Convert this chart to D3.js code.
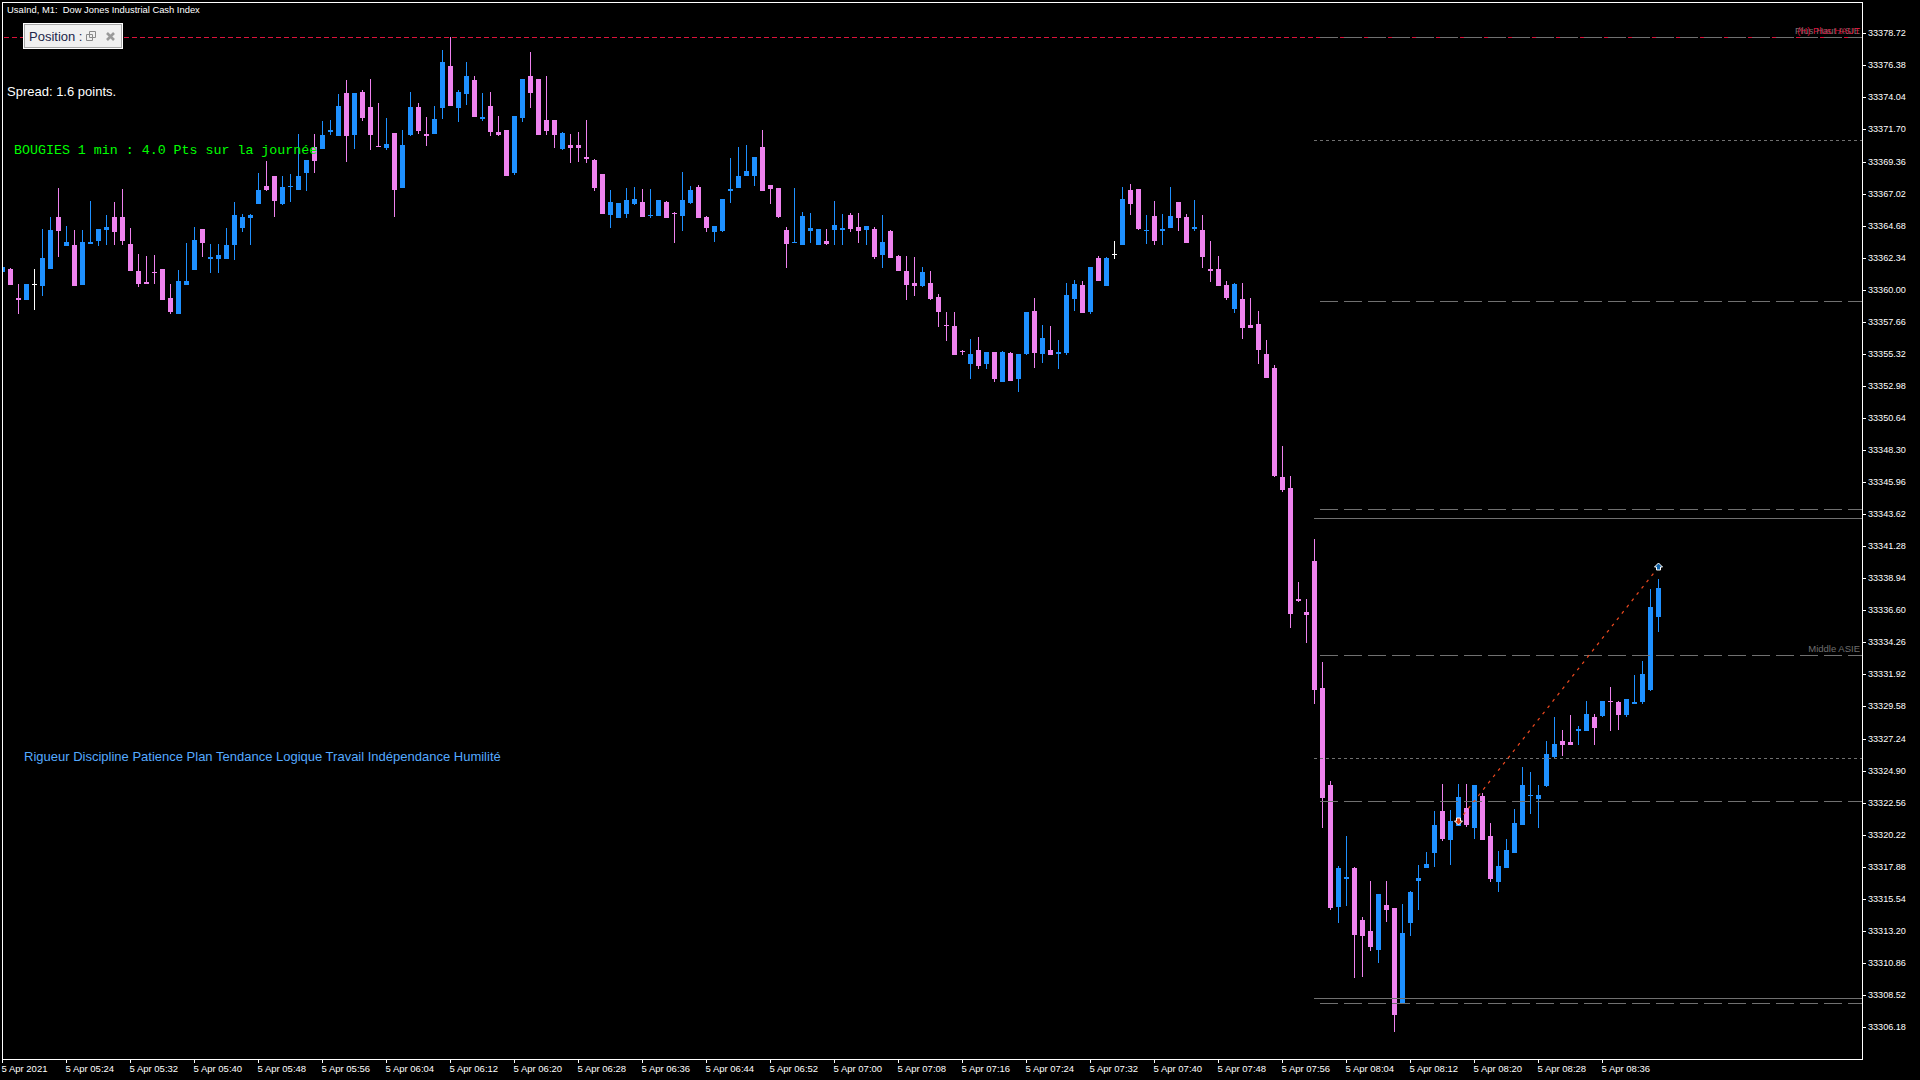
<!DOCTYPE html>
<html>
<head>
<meta charset="utf-8">
<title>UsaInd M1</title>
<script src="https://cdn.jsdelivr.net/npm/d3@7"></script>
<style>
  html, body { margin: 0; padding: 0; background: #000; overflow: hidden; }
  svg { display: block; }
  text { font-family: "Liberation Sans", Arial, sans-serif; }
</style>
</head>
<body>
<div id="chart"></div>
<script>
// Candles, one per minute from 05:16
const open = [
33361.29,33361.51,33359.40,33359.25,33360.45,33360.27,33361.51,33365.31,33363.19,33363.26,
33360.34,33363.34,33363.56,33364.36,33365.31,33365.31,33363.34,33361.37,33360.56,33361.29,
33361.51,33359.40,33358.23,33360.34,33361.44,33364.43,33362.24,33362.24,33362.24,33363.26,
33364.51,33365.24,33366.26,33367.57,33368.30,33366.26,33367.50,33367.28,33368.52,33370.42,
33370.27,33371.51,33371.22,33374.36,33371.29,33374.43,33373.34,33370.49,33370.35,33371.44,
33367.43,33371.29,33373.34,33371.37,33371.37,33373.27,33376.33,33373.27,33374.29,33375.31,
33372.46,33373.41,33371.51,33371.66,33368.52,33372.54,33375.60,33375.38,33372.39,33372.39,
33370.27,33370.56,33370.56,33369.69,33369.47,33368.45,33365.45,33365.24,33365.53,33366.26,
33366.40,33365.38,33365.38,33366.40,33365.60,33365.38,33366.33,33367.50,33365.31,33364.21,
33364.29,33367.21,33367.43,33368.30,33368.30,33370.42,33367.64,33367.43,33364.36,33363.41,
33363.26,33364.29,33363.26,33363.56,33364.36,33364.36,33365.45,33364.58,33364.36,33364.43,
33362.53,33364.29,33362.46,33361.37,33360.49,33360.27,33360.49,33359.47,33357.42,33357.35,
33355.53,33354.58,33355.60,33354.58,33355.45,33353.26,33355.38,33353.48,33355.31,33358.45,
33355.31,33355.60,33355.31,33355.38,33359.32,33360.34,33358.37,33362.32,33360.27,33362.61,
33363.26,33367.28,33367.35,33364.29,33365.38,33364.29,33364.51,33366.40,33365.31,33364.43,
33364.36,33361.51,33361.51,33360.34,33358.59,33359.32,33357.42,33357.50,33355.31,33354.29,
33346.33,33345.53,33337.42,33336.47,33340.20,33330.93,33323.84,33314.94,33316.98,33317.79,
33313.99,33313.19,33311.80,33315.08,33314.87,33307.86,33313.77,33316.84,33317.79,33318.88,
33321.95,33319.83,33320.85,33322.17,33320.71,33323.04,33320.12,33316.76,33317.79,33318.88,
33320.92,33323.04,33322.82,33323.77,33325.89,33327.06,33326.98,33327.79,33327.79,33328.81,
33328.88,33329.98,33329.90,33328.95,33329.76,33329.90,33330.78,33336.11];

const high = [
33361.66,33361.59,33360.42,33360.42,33361.51,33364.43,33365.31,33367.43,33364.65,33364.36,
33364.36,33366.48,33364.43,33365.45,33366.40,33367.35,33364.51,33362.61,33362.46,33362.53,
33361.51,33360.42,33361.44,33363.41,33364.58,33364.43,33363.34,33363.34,33364.51,33366.40,
33365.53,33365.53,33368.52,33369.40,33368.30,33368.30,33368.45,33371.37,33369.47,33371.37,
33372.32,33372.39,33374.29,33375.31,33374.36,33374.58,33375.38,33373.63,33372.54,33371.44,
33371.66,33374.43,33373.63,33372.61,33373.41,33377.50,33378.45,33374.58,33376.62,33375.60,
33374.36,33374.43,33372.68,33371.66,33372.68,33375.38,33377.35,33375.38,33375.60,33372.39,
33371.51,33371.37,33371.51,33372.39,33369.54,33368.45,33367.28,33366.33,33367.43,33367.50,
33367.35,33367.35,33366.55,33366.48,33365.67,33368.59,33367.57,33367.64,33365.38,33364.65,
33366.62,33369.62,33370.42,33370.56,33369.69,33371.66,33367.64,33367.43,33364.58,33367.43,
33365.67,33365.60,33364.43,33364.43,33366.48,33365.53,33365.60,33365.60,33364.65,33364.58,
33365.45,33364.36,33362.53,33362.46,33362.39,33361.66,33361.37,33359.69,33358.37,33358.37,
33355.60,33356.40,33356.55,33355.45,33355.45,33355.53,33355.45,33355.31,33358.37,33359.40,
33357.42,33357.35,33356.33,33360.49,33360.71,33360.64,33361.66,33362.46,33362.39,33363.56,
33367.50,33367.72,33367.35,33365.45,33366.48,33365.53,33367.50,33366.40,33365.53,33366.55,
33365.45,33363.56,33362.46,33360.64,33360.49,33360.49,33359.40,33358.45,33356.33,33354.50,
33348.59,33346.40,33338.66,33337.42,33341.80,33332.82,33324.14,33317.93,33320.12,33317.86,
33314.21,33316.84,33315.89,33316.84,33314.87,33315.16,33316.11,33318.00,33318.95,33321.95,
33323.92,33322.02,33323.92,33323.92,33323.84,33323.26,33321.07,33319.03,33319.90,33322.09,
33325.16,33324.79,33323.84,33327.06,33328.81,33327.86,33328.95,33328.15,33329.98,33329.03,
33329.98,33331.00,33329.98,33330.12,33331.87,33332.90,33338.15,33338.88];

const low = [
33361.29,33360.34,33358.23,33359.25,33358.52,33359.54,33361.51,33362.39,33363.19,33360.27,
33360.34,33363.34,33363.19,33363.26,33363.26,33363.26,33361.37,33360.20,33360.42,33360.42,
33359.25,33358.23,33358.23,33360.34,33361.44,33362.39,33361.22,33361.22,33362.24,33362.17,
33364.21,33363.26,33366.26,33367.21,33365.31,33366.18,33366.40,33367.28,33367.21,33368.52,
33370.27,33371.29,33371.22,33369.32,33370.27,33372.32,33370.20,33370.42,33370.20,33365.31,
33367.43,33371.22,33371.37,33370.49,33371.37,33372.46,33373.41,33372.24,33373.48,33372.61,
33372.32,33371.22,33371.22,33368.30,33368.37,33372.24,33373.27,33371.29,33371.29,33370.35,
33370.20,33369.25,33369.32,33369.25,33367.21,33365.53,33364.51,33365.24,33365.24,33366.18,
33365.31,33365.24,33365.38,33365.24,33363.41,33364.29,33366.26,33365.24,33364.21,33363.48,
33364.21,33366.33,33367.43,33368.30,33367.57,33367.21,33366.26,33365.24,33361.59,33363.41,
33363.26,33363.41,33363.26,33363.26,33363.26,33363.26,33364.21,33363.41,33363.26,33362.24,
33361.59,33362.32,33361.37,33359.25,33359.54,33360.20,33359.25,33357.28,33356.26,33355.23,
33355.23,33353.48,33354.21,33354.21,33353.26,33353.26,33353.34,33352.53,33355.23,33354.29,
33354.65,33355.23,33354.21,33355.23,33358.45,33358.30,33358.23,33360.64,33360.27,33362.24,
33363.26,33365.45,33364.36,33363.34,33363.26,33363.26,33364.51,33364.29,33363.41,33364.29,
33361.59,33360.56,33360.27,33359.25,33358.30,33356.40,33357.21,33354.58,33353.56,33346.33,
33345.23,33335.31,33337.20,33334.21,33329.76,33320.71,33314.72,33313.77,33315.01,33309.76,
33309.83,33311.73,33310.85,33313.84,33305.81,33307.86,33312.82,33314.72,33317.79,33317.86,
33319.76,33318.00,33320.85,33320.78,33319.90,33319.83,33316.76,33316.03,33317.79,33318.88,
33320.92,33321.73,33320.71,33323.70,33325.82,33325.96,33326.76,33326.76,33327.79,33326.76,
33328.81,33327.79,33327.86,33328.81,33329.76,33329.76,33330.71,33335.01];

const close = [
33361.66,33360.34,33359.25,33360.42,33360.45,33362.32,33364.36,33364.29,33363.48,33360.27,
33363.48,33363.48,33364.43,33364.58,33364.21,33363.56,33361.37,33360.42,33360.42,33361.22,
33359.25,33358.37,33360.64,33360.64,33363.63,33363.41,33362.39,33362.53,33363.26,33365.45,
33365.31,33365.45,33367.28,33367.28,33366.48,33367.50,33367.57,33368.30,33369.47,33369.40,
33371.29,33371.66,33373.41,33371.22,33374.36,33372.54,33371.29,33370.42,33370.64,33367.28,
33370.56,33373.34,33371.59,33371.22,33372.46,33376.62,33373.41,33374.43,33375.60,33372.61,
33372.61,33371.51,33371.29,33368.30,33372.68,33375.38,33374.36,33371.29,33371.59,33371.29,
33371.44,33370.35,33370.35,33369.54,33367.43,33365.53,33366.40,33366.33,33366.55,33366.62,
33365.31,33365.45,33366.55,33365.24,33365.53,33366.55,33367.28,33365.24,33364.51,33364.65,
33366.62,33367.35,33368.30,33368.67,33369.69,33367.21,33367.35,33365.31,33363.34,33363.48,
33365.38,33364.51,33364.43,33363.34,33364.72,33364.51,33364.43,33364.29,33364.65,33362.39,
33363.48,33362.32,33361.37,33360.34,33360.27,33361.29,33359.32,33358.37,33357.35,33355.23,
33355.45,33355.31,33354.43,33355.45,33353.48,33355.45,33353.34,33355.31,33358.37,33355.38,
33356.48,33355.23,33355.45,33359.61,33360.42,33358.30,33361.66,33360.64,33362.32,33362.61,
33366.62,33366.26,33364.43,33364.36,33363.56,33364.43,33365.38,33365.24,33363.41,33364.58,
33362.39,33361.37,33360.27,33359.40,33360.42,33357.21,33357.21,33355.60,33353.56,33346.40,
33345.38,33336.33,33337.28,33336.25,33330.78,33322.90,33314.87,33317.79,33317.13,33312.89,
33312.82,33312.02,33315.89,33314.72,33307.05,33313.04,33316.03,33317.06,33318.08,33320.92,
33319.90,33321.22,33322.97,33320.92,33323.84,33319.83,33316.98,33317.93,33319.10,33321.07,
33323.84,33323.11,33323.11,33326.11,33326.84,33326.76,33326.76,33327.93,33329.03,33328.01,
33329.98,33329.90,33328.95,33330.12,33329.90,33331.95,33336.84,33338.23];

const priceTicks = [
33378.72,33376.38,33374.04,33371.70,33369.36,33367.02,33364.68,33362.34,33360.00,33357.66,33355.32,
33352.98,33350.64,33348.30,33345.96,33343.62,33341.28,33338.94,33336.60,33334.26,33331.92,33329.58,
33327.24,33324.90,33322.56,33320.22,33317.88,33315.54,33313.20,33310.86,33308.52,33306.18];

const timeLabels = [
"5 Apr 2021","5 Apr 05:24","5 Apr 05:32","5 Apr 05:40","5 Apr 05:48","5 Apr 05:56","5 Apr 06:04",
"5 Apr 06:12","5 Apr 06:20","5 Apr 06:28","5 Apr 06:36","5 Apr 06:44","5 Apr 06:52","5 Apr 07:00",
"5 Apr 07:08","5 Apr 07:16","5 Apr 07:24","5 Apr 07:32","5 Apr 07:40","5 Apr 07:48","5 Apr 07:56",
"5 Apr 08:04","5 Apr 08:12","5 Apr 08:20","5 Apr 08:28","5 Apr 08:36"];

// Horizontal levels drawn by the indicator on the last part of the chart
const levelPrices = [33378.45,33370.91,33359.15,33343.97,33343.31,33333.31,33325.79,33322.66,33308.27,33307.91];
const levelKinds  = ["dash","dot","dash","dash","solid","dash","dot","dash","solid","dash"];
const levelStart  = [164.75,164,164.75,164.75,164,164.75,164,164.75,164,164.75];

// The trade: entry and exit
const tradeBars = [182, 207];
const tradePrices = [33321.22, 33339.74];

const highLine = 33378.45;

const width = 1920, height = 1080;
const frame = {left: 2, top: 2, right: 1862, bottom: 1059};

const svg = d3.select("#chart")
  .append("svg")
    .attr("width", width)
    .attr("height", height)
    .style("background", "#000");

const x = d3.scaleLinear().domain([0, 207]).range([2, 1658]);
const y = d3.scaleLinear().domain([33306.18, 33378.72]).rangeRound([1027, 33.3]);

const BLUE = "#1E90FF", VIOLET = "#EE82EE";
const barColor = i => close[i] > open[i] ? BLUE : close[i] < open[i] ? VIOLET : "#fff";

// Candles stop at the frame
svg.append("clipPath")
    .attr("id", "plot")
  .append("rect")
    .attr("x", frame.left + 1)
    .attr("y", frame.top + 1)
    .attr("width", frame.right - frame.left - 1)
    .attr("height", frame.bottom - frame.top - 1);

// Frame
svg.append("rect")
  .attr("x", frame.left + 0.5)
  .attr("y", frame.top + 0.5)
  .attr("width", frame.right - frame.left)
  .attr("height", frame.bottom - frame.top)
  .attr("fill", "none")
  .attr("stroke", "#fff");

// Axes
const yAxis = svg.append("g")
  .attr("transform", `translate(${frame.right},0)`)
  .call(d3.axisRight(y).tickValues(priceTicks).tickFormat(d3.format(".2f")).tickSize(4).tickPadding(2));
yAxis.select(".domain").remove();
yAxis.selectAll("line").attr("stroke", "#fff");
yAxis.selectAll("text").attr("fill", "#fff").style("font-size", "9.1px").style("font-family", '"Liberation Sans"');

const xAxis = svg.append("g")
  .attr("transform", `translate(0,${frame.bottom})`)
  .call(d3.axisBottom(x).tickValues(d3.range(0, 208, 8)).tickFormat(i => timeLabels[i / 8]).tickSize(4));
xAxis.select(".domain").remove();
xAxis.selectAll("line").attr("stroke", "#fff");
xAxis.selectAll("text")
  .attr("fill", "#fff")
  .attr("text-anchor", "start")
  .attr("x", -1)
  .attr("y", 13)
  .attr("dy", 0)
  .style("font-size", "9.5px")
  .style("font-family", '"Liberation Sans"');

// Candles
const bars = d3.range(open.length);
const candles = svg.append("g").attr("clip-path", "url(#plot)");

candles.selectAll("rect.wick")
  .data(bars)
  .join("rect")
    .attr("class", "wick")
    .attr("x", i => x(i))
    .attr("y", i => y(high[i]))
    .attr("width", 1)
    .attr("height", i => Math.max(1, y(low[i]) - y(high[i])))
    .attr("fill", barColor);

candles.selectAll("rect.body")
  .data(bars)
  .join("rect")
    .attr("class", "body")
    .attr("x", i => x(i) - 2)
    .attr("y", i => y(Math.max(open[i], close[i])))
    .attr("width", 5)
    .attr("height", i => Math.max(1, Math.abs(y(open[i]) - y(close[i]))))
    .attr("fill", barColor);

// Day high line, runs under the panel
svg.append("line")
  .attr("x1", frame.left + 2)
  .attr("x2", frame.right)
  .attr("y1", y(highLine) + 0.5)
  .attr("y2", y(highLine) + 0.5)
  .attr("stroke", "#DC143C")
  .attr("stroke-dasharray", "5,3");

// Levels
const levelDash = {dash: "18,6", dot: "3,3", solid: null};
svg.append("g").selectAll("line")
  .data(levelPrices)
  .join("line")
    .attr("x1", (d, i) => x(levelStart[i]))
    .attr("x2", frame.right)
    .attr("y1", d => y(d) + 0.5)
    .attr("y2", d => y(d) + 0.5)
    .attr("stroke", "#707070")
    .attr("stroke-dasharray", (d, i) => levelDash[levelKinds[i]]);

// Labels on the right, the two at the top sit on one another in the original
const labelEnd = frame.right - 2;
svg.append("text")
  .attr("x", labelEnd).attr("y", y(highLine) - 3)
  .attr("text-anchor", "end")
  .attr("fill", "#707070")
  .style("font-size", "9.5px")
  .text("Plus Haut ASIE");
svg.append("text")
  .attr("x", labelEnd).attr("y", y(highLine) - 3)
  .attr("text-anchor", "end")
  .attr("fill", "#DC143C")
  .style("font-size", "9.5px")
  .text("(H) Plus HAUT");
svg.append("text")
  .attr("x", labelEnd).attr("y", y(33333.31) - 3)
  .attr("text-anchor", "end")
  .attr("fill", "#707070")
  .style("font-size", "9.5px")
  .text("Middle ASIE");

// Trade line and arrows
const tradeLine = d3.line()
  .x((d, i) => x(tradeBars[i]) + 0.5)
  .y(d => y(d));
svg.append("path")
  .datum(tradePrices)
  .attr("fill", "none")
  .attr("stroke", "#F04A20")
  .attr("stroke-width", 1.2)
  .attr("stroke-dasharray", "3,5")
  .attr("d", tradeLine);

const arrow = dir => d3.line()([[0, -4 * dir], [4, 0], [2, 0], [2, 3 * dir], [-2, 3 * dir], [-2, 0], [-4, 0]]) + "Z";
svg.append("path")
  .attr("transform", `translate(${x(tradeBars[0]) + 0.5},${y(tradePrices[0])})`)
  .attr("d", arrow(-1))
  .attr("fill", "#D8380F")
  .attr("stroke", "#fff");
svg.append("path")
  .attr("transform", `translate(${x(tradeBars[1]) + 0.5},${y(tradePrices[1])})`)
  .attr("d", arrow(1))
  .attr("fill", "#0F62A8")
  .attr("stroke", "#fff");

// Header and comments
svg.append("text")
  .attr("x", 7).attr("y", 13)
  .attr("fill", "#fff")
  .attr("xml:space", "preserve")
  .style("font-size", "9.4px")
  .style("white-space", "pre")
  .text("UsaInd, M1:  Dow Jones Industrial Cash Index");

svg.append("text")
  .attr("x", 7).attr("y", 96)
  .attr("fill", "#fff")
  .style("font-size", "13px")
  .text("Spread: 1.6 points.");

svg.append("text")
  .attr("x", 14).attr("y", 154)
  .attr("fill", "#00FF00")
  .style("font-family", '"Liberation Mono", monospace')
  .style("font-size", "13.3px")
  .text("BOUGIES 1 min : 4.0 Pts sur la journée");

svg.append("text")
  .attr("x", 24).attr("y", 761)
  .attr("fill", "#55AAFF")
  .style("font-size", "13px")
  .text("Rigueur Discipline Patience Plan Tendance Logique Travail Indépendance Humilité");

// Position panel
const panel = svg.append("g");
panel.append("rect")
  .attr("x", 23.5).attr("y", 23.5).attr("width", 99).attr("height", 25)
  .attr("fill", "#F0F0F0").attr("stroke", "#fff");
panel.append("rect")
  .attr("x", 24.5).attr("y", 24.5).attr("width", 97).attr("height", 23)
  .attr("fill", "#F0F0F0").attr("stroke", "#A8A8A8");
panel.append("text")
  .attr("x", 29).attr("y", 41)
  .attr("fill", "#22264A")
  .style("font-size", "13px")
  .text("Position :");
panel.append("path")
  .attr("d", "M89.5 31.5h6v6h-6zM86.5 34.5h6v6h-6z")
  .attr("fill", "#F0F0F0")
  .attr("stroke", "#8A8A8A");
panel.append("path")
  .attr("d", "M107 33L114 40M114 33L107 40")
  .attr("fill", "none")
  .attr("stroke", "#9A9A9A")
  .attr("stroke-width", 2.6);
</script>
</body>
</html>
